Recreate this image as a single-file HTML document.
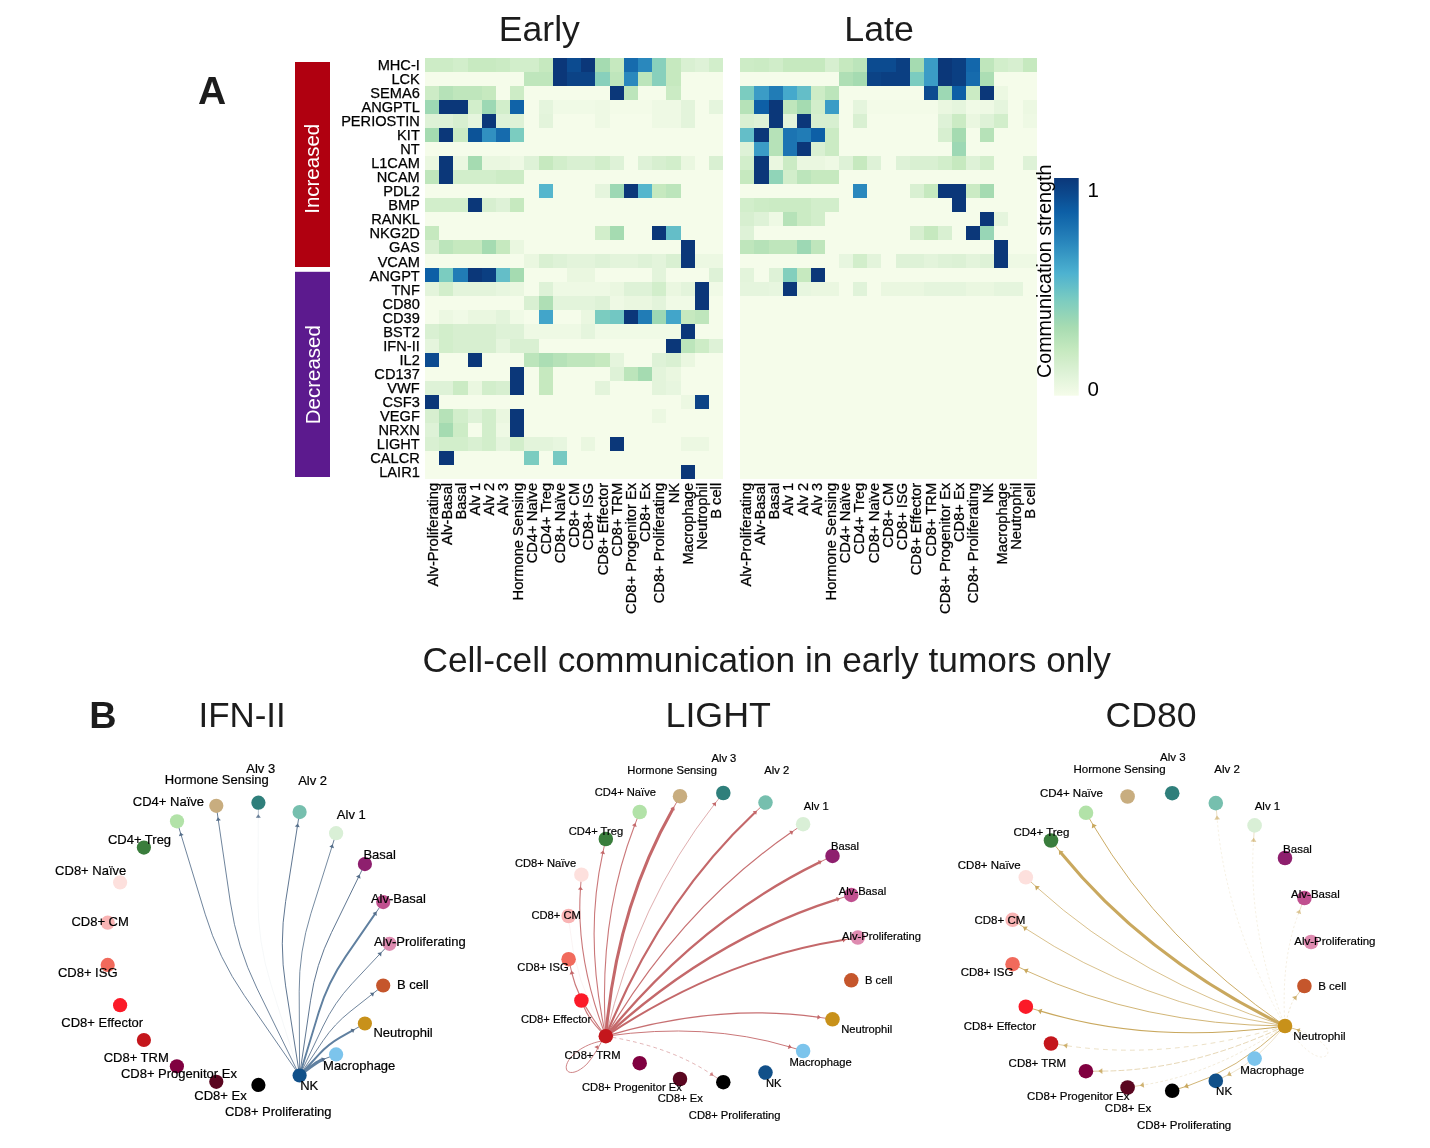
<!DOCTYPE html>
<html><head><meta charset="utf-8"><title>Figure</title>
<style>html,body{margin:0;padding:0;background:#fff}svg{display:block}</style></head>
<body><svg width="1430" height="1148" viewBox="0 0 1430 1148">
<rect width="1430" height="1148" fill="#fff"/>
<g shape-rendering="crispEdges">
<rect x="425.10" y="57.8" width="298.10" height="421.05" fill="#f5fcea"/>
<rect x="425.10" y="57.80" width="14.20" height="14.04" fill="#cdecc6"/>
<rect x="439.30" y="57.80" width="14.20" height="14.04" fill="#cdecc6"/>
<rect x="453.49" y="57.80" width="14.20" height="14.04" fill="#d2eecb"/>
<rect x="467.69" y="57.80" width="14.20" height="14.04" fill="#c8eac1"/>
<rect x="481.88" y="57.80" width="14.20" height="14.04" fill="#c8eac1"/>
<rect x="496.08" y="57.80" width="14.20" height="14.04" fill="#cbebc4"/>
<rect x="510.27" y="57.80" width="14.20" height="14.04" fill="#d2eecb"/>
<rect x="524.47" y="57.80" width="14.20" height="14.04" fill="#d2eecb"/>
<rect x="538.66" y="57.80" width="14.20" height="14.04" fill="#c6e9bf"/>
<rect x="552.86" y="57.80" width="14.20" height="14.04" fill="#0b3779"/>
<rect x="567.05" y="57.80" width="14.20" height="14.04" fill="#0c4b90"/>
<rect x="581.25" y="57.80" width="14.20" height="14.04" fill="#0b3779"/>
<rect x="595.44" y="57.80" width="14.20" height="14.04" fill="#a5dbb1"/>
<rect x="609.63" y="57.80" width="14.20" height="14.04" fill="#c6e9bf"/>
<rect x="623.83" y="57.80" width="14.20" height="14.04" fill="#166bad"/>
<rect x="638.03" y="57.80" width="14.20" height="14.04" fill="#2a88bd"/>
<rect x="652.22" y="57.80" width="14.20" height="14.04" fill="#88d0bc"/>
<rect x="666.41" y="57.80" width="14.20" height="14.04" fill="#c6e9bf"/>
<rect x="680.61" y="57.80" width="14.20" height="14.04" fill="#d9f0d2"/>
<rect x="694.81" y="57.80" width="14.20" height="14.04" fill="#def2d7"/>
<rect x="709.00" y="57.80" width="14.20" height="14.04" fill="#d2eecb"/>
<rect x="524.47" y="71.83" width="14.20" height="14.04" fill="#bfe6bc"/>
<rect x="538.66" y="71.83" width="14.20" height="14.04" fill="#bfe6bc"/>
<rect x="552.86" y="71.83" width="14.20" height="14.04" fill="#0b3779"/>
<rect x="567.05" y="71.83" width="14.20" height="14.04" fill="#0c4386"/>
<rect x="581.25" y="71.83" width="14.20" height="14.04" fill="#0c4386"/>
<rect x="595.44" y="71.83" width="14.20" height="14.04" fill="#88d0bc"/>
<rect x="609.63" y="71.83" width="14.20" height="14.04" fill="#bfe6bc"/>
<rect x="623.83" y="71.83" width="14.20" height="14.04" fill="#2a88bd"/>
<rect x="638.03" y="71.83" width="14.20" height="14.04" fill="#bce5bb"/>
<rect x="652.22" y="71.83" width="14.20" height="14.04" fill="#88d0bc"/>
<rect x="666.41" y="71.83" width="14.20" height="14.04" fill="#c6e9bf"/>
<rect x="425.10" y="85.87" width="14.20" height="14.04" fill="#cdecc6"/>
<rect x="439.30" y="85.87" width="14.20" height="14.04" fill="#b6e2b8"/>
<rect x="453.49" y="85.87" width="14.20" height="14.04" fill="#bfe6bc"/>
<rect x="467.69" y="85.87" width="14.20" height="14.04" fill="#bfe6bc"/>
<rect x="481.88" y="85.87" width="14.20" height="14.04" fill="#c6e9bf"/>
<rect x="510.27" y="85.87" width="14.20" height="14.04" fill="#cdecc6"/>
<rect x="609.63" y="85.87" width="14.20" height="14.04" fill="#0b3779"/>
<rect x="623.83" y="85.87" width="14.20" height="14.04" fill="#bce5bb"/>
<rect x="666.41" y="85.87" width="14.20" height="14.04" fill="#cbebc4"/>
<rect x="425.10" y="99.91" width="14.20" height="14.04" fill="#9dd8b4"/>
<rect x="439.30" y="99.91" width="14.20" height="14.04" fill="#0b3779"/>
<rect x="453.49" y="99.91" width="14.20" height="14.04" fill="#0b3779"/>
<rect x="467.69" y="99.91" width="14.20" height="14.04" fill="#d2eecb"/>
<rect x="481.88" y="99.91" width="14.20" height="14.04" fill="#9dd8b4"/>
<rect x="496.08" y="99.91" width="14.20" height="14.04" fill="#d2eecb"/>
<rect x="510.27" y="99.91" width="14.20" height="14.04" fill="#1063a8"/>
<rect x="538.66" y="99.91" width="14.20" height="14.04" fill="#e5f5dd"/>
<rect x="552.86" y="99.91" width="14.20" height="14.04" fill="#f0fae6"/>
<rect x="567.05" y="99.91" width="14.20" height="14.04" fill="#f0fae6"/>
<rect x="581.25" y="99.91" width="14.20" height="14.04" fill="#f0fae6"/>
<rect x="595.44" y="99.91" width="14.20" height="14.04" fill="#eef9e4"/>
<rect x="609.63" y="99.91" width="14.20" height="14.04" fill="#f3fbe8"/>
<rect x="623.83" y="99.91" width="14.20" height="14.04" fill="#f3fbe8"/>
<rect x="638.03" y="99.91" width="14.20" height="14.04" fill="#f3fbe8"/>
<rect x="652.22" y="99.91" width="14.20" height="14.04" fill="#eef9e4"/>
<rect x="666.41" y="99.91" width="14.20" height="14.04" fill="#eef9e4"/>
<rect x="680.61" y="99.91" width="14.20" height="14.04" fill="#e3f4db"/>
<rect x="709.00" y="99.91" width="14.20" height="14.04" fill="#e5f5dd"/>
<rect x="425.10" y="113.94" width="14.20" height="14.04" fill="#def2d7"/>
<rect x="439.30" y="113.94" width="14.20" height="14.04" fill="#def2d7"/>
<rect x="453.49" y="113.94" width="14.20" height="14.04" fill="#d7efd0"/>
<rect x="467.69" y="113.94" width="14.20" height="14.04" fill="#e5f5dd"/>
<rect x="481.88" y="113.94" width="14.20" height="14.04" fill="#0b3779"/>
<rect x="496.08" y="113.94" width="14.20" height="14.04" fill="#def2d7"/>
<rect x="510.27" y="113.94" width="14.20" height="14.04" fill="#def2d7"/>
<rect x="538.66" y="113.94" width="14.20" height="14.04" fill="#e3f4db"/>
<rect x="595.44" y="113.94" width="14.20" height="14.04" fill="#eef9e4"/>
<rect x="652.22" y="113.94" width="14.20" height="14.04" fill="#eef9e4"/>
<rect x="666.41" y="113.94" width="14.20" height="14.04" fill="#eef9e4"/>
<rect x="680.61" y="113.94" width="14.20" height="14.04" fill="#e3f4db"/>
<rect x="425.10" y="127.97" width="14.20" height="14.04" fill="#a5dbb1"/>
<rect x="439.30" y="127.97" width="14.20" height="14.04" fill="#0b3779"/>
<rect x="453.49" y="127.97" width="14.20" height="14.04" fill="#cbebc4"/>
<rect x="467.69" y="127.97" width="14.20" height="14.04" fill="#0c5398"/>
<rect x="481.88" y="127.97" width="14.20" height="14.04" fill="#3190c1"/>
<rect x="496.08" y="127.97" width="14.20" height="14.04" fill="#166bad"/>
<rect x="510.27" y="127.97" width="14.20" height="14.04" fill="#7bccc0"/>
<rect x="425.10" y="156.05" width="14.20" height="14.04" fill="#eaf7e0"/>
<rect x="439.30" y="156.05" width="14.20" height="14.04" fill="#0b3779"/>
<rect x="453.49" y="156.05" width="14.20" height="14.04" fill="#eaf7e0"/>
<rect x="467.69" y="156.05" width="14.20" height="14.04" fill="#a5dbb1"/>
<rect x="481.88" y="156.05" width="14.20" height="14.04" fill="#eaf7e0"/>
<rect x="496.08" y="156.05" width="14.20" height="14.04" fill="#eaf7e0"/>
<rect x="510.27" y="156.05" width="14.20" height="14.04" fill="#eef9e4"/>
<rect x="524.47" y="156.05" width="14.20" height="14.04" fill="#def2d7"/>
<rect x="538.66" y="156.05" width="14.20" height="14.04" fill="#c6e9bf"/>
<rect x="552.86" y="156.05" width="14.20" height="14.04" fill="#d2eecb"/>
<rect x="567.05" y="156.05" width="14.20" height="14.04" fill="#d9f0d2"/>
<rect x="581.25" y="156.05" width="14.20" height="14.04" fill="#d9f0d2"/>
<rect x="595.44" y="156.05" width="14.20" height="14.04" fill="#d2eecb"/>
<rect x="609.63" y="156.05" width="14.20" height="14.04" fill="#def2d7"/>
<rect x="638.03" y="156.05" width="14.20" height="14.04" fill="#def2d7"/>
<rect x="652.22" y="156.05" width="14.20" height="14.04" fill="#d7efd0"/>
<rect x="666.41" y="156.05" width="14.20" height="14.04" fill="#d2eecb"/>
<rect x="680.61" y="156.05" width="14.20" height="14.04" fill="#eaf7e0"/>
<rect x="709.00" y="156.05" width="14.20" height="14.04" fill="#d9f0d2"/>
<rect x="425.10" y="170.08" width="14.20" height="14.04" fill="#bfe6bc"/>
<rect x="439.30" y="170.08" width="14.20" height="14.04" fill="#0b3779"/>
<rect x="453.49" y="170.08" width="14.20" height="14.04" fill="#d2eecb"/>
<rect x="467.69" y="170.08" width="14.20" height="14.04" fill="#d2eecb"/>
<rect x="481.88" y="170.08" width="14.20" height="14.04" fill="#d2eecb"/>
<rect x="496.08" y="170.08" width="14.20" height="14.04" fill="#cdecc6"/>
<rect x="510.27" y="170.08" width="14.20" height="14.04" fill="#cdecc6"/>
<rect x="538.66" y="184.12" width="14.20" height="14.04" fill="#55b6cd"/>
<rect x="595.44" y="184.12" width="14.20" height="14.04" fill="#e5f5dd"/>
<rect x="609.63" y="184.12" width="14.20" height="14.04" fill="#9dd8b4"/>
<rect x="623.83" y="184.12" width="14.20" height="14.04" fill="#0b3779"/>
<rect x="638.03" y="184.12" width="14.20" height="14.04" fill="#55b6cd"/>
<rect x="652.22" y="184.12" width="14.20" height="14.04" fill="#c6e9bf"/>
<rect x="666.41" y="184.12" width="14.20" height="14.04" fill="#bce5bb"/>
<rect x="425.10" y="198.15" width="14.20" height="14.04" fill="#d2eecb"/>
<rect x="439.30" y="198.15" width="14.20" height="14.04" fill="#d2eecb"/>
<rect x="453.49" y="198.15" width="14.20" height="14.04" fill="#d2eecb"/>
<rect x="467.69" y="198.15" width="14.20" height="14.04" fill="#0b3779"/>
<rect x="481.88" y="198.15" width="14.20" height="14.04" fill="#d7efd0"/>
<rect x="496.08" y="198.15" width="14.20" height="14.04" fill="#def2d7"/>
<rect x="510.27" y="198.15" width="14.20" height="14.04" fill="#c6e9bf"/>
<rect x="425.10" y="226.22" width="14.20" height="14.04" fill="#c6e9bf"/>
<rect x="595.44" y="226.22" width="14.20" height="14.04" fill="#d2eecb"/>
<rect x="609.63" y="226.22" width="14.20" height="14.04" fill="#a5dbb1"/>
<rect x="652.22" y="226.22" width="14.20" height="14.04" fill="#0b3779"/>
<rect x="666.41" y="226.22" width="14.20" height="14.04" fill="#64bec8"/>
<rect x="425.10" y="240.25" width="14.20" height="14.04" fill="#d7efd0"/>
<rect x="439.30" y="240.25" width="14.20" height="14.04" fill="#bce5bb"/>
<rect x="453.49" y="240.25" width="14.20" height="14.04" fill="#c6e9bf"/>
<rect x="467.69" y="240.25" width="14.20" height="14.04" fill="#c6e9bf"/>
<rect x="481.88" y="240.25" width="14.20" height="14.04" fill="#a5dbb1"/>
<rect x="496.08" y="240.25" width="14.20" height="14.04" fill="#c6e9bf"/>
<rect x="510.27" y="240.25" width="14.20" height="14.04" fill="#eaf7e0"/>
<rect x="680.61" y="240.25" width="14.20" height="14.04" fill="#0b3779"/>
<rect x="524.47" y="254.29" width="14.20" height="14.04" fill="#eaf7e0"/>
<rect x="538.66" y="254.29" width="14.20" height="14.04" fill="#d9f0d2"/>
<rect x="552.86" y="254.29" width="14.20" height="14.04" fill="#def2d7"/>
<rect x="567.05" y="254.29" width="14.20" height="14.04" fill="#e3f4db"/>
<rect x="581.25" y="254.29" width="14.20" height="14.04" fill="#e3f4db"/>
<rect x="595.44" y="254.29" width="14.20" height="14.04" fill="#def2d7"/>
<rect x="609.63" y="254.29" width="14.20" height="14.04" fill="#e3f4db"/>
<rect x="623.83" y="254.29" width="14.20" height="14.04" fill="#e3f4db"/>
<rect x="638.03" y="254.29" width="14.20" height="14.04" fill="#def2d7"/>
<rect x="652.22" y="254.29" width="14.20" height="14.04" fill="#e3f4db"/>
<rect x="666.41" y="254.29" width="14.20" height="14.04" fill="#d9f0d2"/>
<rect x="680.61" y="254.29" width="14.20" height="14.04" fill="#0b3779"/>
<rect x="694.81" y="254.29" width="14.20" height="14.04" fill="#ecf8e2"/>
<rect x="709.00" y="254.29" width="14.20" height="14.04" fill="#ecf8e2"/>
<rect x="425.10" y="268.32" width="14.20" height="14.04" fill="#0d5fa6"/>
<rect x="439.30" y="268.32" width="14.20" height="14.04" fill="#7bccc0"/>
<rect x="453.49" y="268.32" width="14.20" height="14.04" fill="#217cb6"/>
<rect x="467.69" y="268.32" width="14.20" height="14.04" fill="#0b3779"/>
<rect x="481.88" y="268.32" width="14.20" height="14.04" fill="#0b3f82"/>
<rect x="496.08" y="268.32" width="14.20" height="14.04" fill="#64bec8"/>
<rect x="510.27" y="268.32" width="14.20" height="14.04" fill="#a5dbb1"/>
<rect x="567.05" y="268.32" width="14.20" height="14.04" fill="#eaf7e0"/>
<rect x="581.25" y="268.32" width="14.20" height="14.04" fill="#eaf7e0"/>
<rect x="652.22" y="268.32" width="14.20" height="14.04" fill="#e3f4db"/>
<rect x="709.00" y="268.32" width="14.20" height="14.04" fill="#def2d7"/>
<rect x="425.10" y="282.36" width="14.20" height="14.04" fill="#e3f4db"/>
<rect x="439.30" y="282.36" width="14.20" height="14.04" fill="#d2eecb"/>
<rect x="453.49" y="282.36" width="14.20" height="14.04" fill="#e3f4db"/>
<rect x="467.69" y="282.36" width="14.20" height="14.04" fill="#e3f4db"/>
<rect x="481.88" y="282.36" width="14.20" height="14.04" fill="#e3f4db"/>
<rect x="496.08" y="282.36" width="14.20" height="14.04" fill="#e7f6df"/>
<rect x="510.27" y="282.36" width="14.20" height="14.04" fill="#eaf7e0"/>
<rect x="538.66" y="282.36" width="14.20" height="14.04" fill="#def2d7"/>
<rect x="552.86" y="282.36" width="14.20" height="14.04" fill="#eef9e4"/>
<rect x="567.05" y="282.36" width="14.20" height="14.04" fill="#eef9e4"/>
<rect x="581.25" y="282.36" width="14.20" height="14.04" fill="#eef9e4"/>
<rect x="595.44" y="282.36" width="14.20" height="14.04" fill="#eef9e4"/>
<rect x="609.63" y="282.36" width="14.20" height="14.04" fill="#eaf7e0"/>
<rect x="623.83" y="282.36" width="14.20" height="14.04" fill="#def2d7"/>
<rect x="638.03" y="282.36" width="14.20" height="14.04" fill="#def2d7"/>
<rect x="652.22" y="282.36" width="14.20" height="14.04" fill="#d2eecb"/>
<rect x="666.41" y="282.36" width="14.20" height="14.04" fill="#eaf7e0"/>
<rect x="680.61" y="282.36" width="14.20" height="14.04" fill="#e3f4db"/>
<rect x="694.81" y="282.36" width="14.20" height="14.04" fill="#0b3779"/>
<rect x="709.00" y="282.36" width="14.20" height="14.04" fill="#f0fae6"/>
<rect x="524.47" y="296.39" width="14.20" height="14.04" fill="#d9f0d2"/>
<rect x="538.66" y="296.39" width="14.20" height="14.04" fill="#afdfb5"/>
<rect x="552.86" y="296.39" width="14.20" height="14.04" fill="#e3f4db"/>
<rect x="567.05" y="296.39" width="14.20" height="14.04" fill="#e3f4db"/>
<rect x="581.25" y="296.39" width="14.20" height="14.04" fill="#e3f4db"/>
<rect x="595.44" y="296.39" width="14.20" height="14.04" fill="#def2d7"/>
<rect x="609.63" y="296.39" width="14.20" height="14.04" fill="#eef9e4"/>
<rect x="623.83" y="296.39" width="14.20" height="14.04" fill="#eaf7e0"/>
<rect x="638.03" y="296.39" width="14.20" height="14.04" fill="#eaf7e0"/>
<rect x="652.22" y="296.39" width="14.20" height="14.04" fill="#e3f4db"/>
<rect x="666.41" y="296.39" width="14.20" height="14.04" fill="#f0fae6"/>
<rect x="680.61" y="296.39" width="14.20" height="14.04" fill="#f0fae6"/>
<rect x="694.81" y="296.39" width="14.20" height="14.04" fill="#0b3779"/>
<rect x="439.30" y="310.43" width="14.20" height="14.04" fill="#ecf8e2"/>
<rect x="453.49" y="310.43" width="14.20" height="14.04" fill="#f0fae6"/>
<rect x="467.69" y="310.43" width="14.20" height="14.04" fill="#eaf7e0"/>
<rect x="481.88" y="310.43" width="14.20" height="14.04" fill="#eaf7e0"/>
<rect x="496.08" y="310.43" width="14.20" height="14.04" fill="#e3f4db"/>
<rect x="510.27" y="310.43" width="14.20" height="14.04" fill="#f0fae6"/>
<rect x="538.66" y="310.43" width="14.20" height="14.04" fill="#42a5ca"/>
<rect x="581.25" y="310.43" width="14.20" height="14.04" fill="#eaf7e0"/>
<rect x="595.44" y="310.43" width="14.20" height="14.04" fill="#7bccc0"/>
<rect x="609.63" y="310.43" width="14.20" height="14.04" fill="#72c7c3"/>
<rect x="623.83" y="310.43" width="14.20" height="14.04" fill="#0b3779"/>
<rect x="638.03" y="310.43" width="14.20" height="14.04" fill="#217cb6"/>
<rect x="652.22" y="310.43" width="14.20" height="14.04" fill="#9dd8b4"/>
<rect x="666.41" y="310.43" width="14.20" height="14.04" fill="#42a5ca"/>
<rect x="680.61" y="310.43" width="14.20" height="14.04" fill="#c6e9bf"/>
<rect x="694.81" y="310.43" width="14.20" height="14.04" fill="#bfe6bc"/>
<rect x="425.10" y="324.47" width="14.20" height="14.04" fill="#d9f0d2"/>
<rect x="439.30" y="324.47" width="14.20" height="14.04" fill="#d2eecb"/>
<rect x="453.49" y="324.47" width="14.20" height="14.04" fill="#d7efd0"/>
<rect x="467.69" y="324.47" width="14.20" height="14.04" fill="#d7efd0"/>
<rect x="481.88" y="324.47" width="14.20" height="14.04" fill="#d7efd0"/>
<rect x="496.08" y="324.47" width="14.20" height="14.04" fill="#def2d7"/>
<rect x="510.27" y="324.47" width="14.20" height="14.04" fill="#def2d7"/>
<rect x="524.47" y="324.47" width="14.20" height="14.04" fill="#eef9e4"/>
<rect x="538.66" y="324.47" width="14.20" height="14.04" fill="#eef9e4"/>
<rect x="552.86" y="324.47" width="14.20" height="14.04" fill="#eef9e4"/>
<rect x="567.05" y="324.47" width="14.20" height="14.04" fill="#eef9e4"/>
<rect x="581.25" y="324.47" width="14.20" height="14.04" fill="#e5f5dd"/>
<rect x="595.44" y="324.47" width="14.20" height="14.04" fill="#f0fae6"/>
<rect x="609.63" y="324.47" width="14.20" height="14.04" fill="#f0fae6"/>
<rect x="623.83" y="324.47" width="14.20" height="14.04" fill="#f0fae6"/>
<rect x="638.03" y="324.47" width="14.20" height="14.04" fill="#f0fae6"/>
<rect x="652.22" y="324.47" width="14.20" height="14.04" fill="#f0fae6"/>
<rect x="666.41" y="324.47" width="14.20" height="14.04" fill="#f0fae6"/>
<rect x="680.61" y="324.47" width="14.20" height="14.04" fill="#0b3779"/>
<rect x="425.10" y="338.50" width="14.20" height="14.04" fill="#e5f5dd"/>
<rect x="439.30" y="338.50" width="14.20" height="14.04" fill="#d2eecb"/>
<rect x="453.49" y="338.50" width="14.20" height="14.04" fill="#d7efd0"/>
<rect x="467.69" y="338.50" width="14.20" height="14.04" fill="#d7efd0"/>
<rect x="481.88" y="338.50" width="14.20" height="14.04" fill="#d7efd0"/>
<rect x="496.08" y="338.50" width="14.20" height="14.04" fill="#e5f5dd"/>
<rect x="510.27" y="338.50" width="14.20" height="14.04" fill="#d9f0d2"/>
<rect x="524.47" y="338.50" width="14.20" height="14.04" fill="#d9f0d2"/>
<rect x="666.41" y="338.50" width="14.20" height="14.04" fill="#0b3779"/>
<rect x="680.61" y="338.50" width="14.20" height="14.04" fill="#bce5bb"/>
<rect x="694.81" y="338.50" width="14.20" height="14.04" fill="#cdecc6"/>
<rect x="709.00" y="338.50" width="14.20" height="14.04" fill="#def2d7"/>
<rect x="425.10" y="352.54" width="14.20" height="14.04" fill="#0c4b90"/>
<rect x="467.69" y="352.54" width="14.20" height="14.04" fill="#0b3779"/>
<rect x="524.47" y="352.54" width="14.20" height="14.04" fill="#bce5bb"/>
<rect x="538.66" y="352.54" width="14.20" height="14.04" fill="#acdeb4"/>
<rect x="552.86" y="352.54" width="14.20" height="14.04" fill="#b6e2b8"/>
<rect x="567.05" y="352.54" width="14.20" height="14.04" fill="#bfe6bc"/>
<rect x="581.25" y="352.54" width="14.20" height="14.04" fill="#bfe6bc"/>
<rect x="595.44" y="352.54" width="14.20" height="14.04" fill="#c6e9bf"/>
<rect x="609.63" y="352.54" width="14.20" height="14.04" fill="#e5f5dd"/>
<rect x="652.22" y="352.54" width="14.20" height="14.04" fill="#def2d7"/>
<rect x="666.41" y="352.54" width="14.20" height="14.04" fill="#d9f0d2"/>
<rect x="680.61" y="352.54" width="14.20" height="14.04" fill="#eaf7e0"/>
<rect x="510.27" y="366.57" width="14.20" height="14.04" fill="#0b3779"/>
<rect x="538.66" y="366.57" width="14.20" height="14.04" fill="#c6e9bf"/>
<rect x="609.63" y="366.57" width="14.20" height="14.04" fill="#def2d7"/>
<rect x="623.83" y="366.57" width="14.20" height="14.04" fill="#bce5bb"/>
<rect x="638.03" y="366.57" width="14.20" height="14.04" fill="#a5dbb1"/>
<rect x="652.22" y="366.57" width="14.20" height="14.04" fill="#e3f4db"/>
<rect x="666.41" y="366.57" width="14.20" height="14.04" fill="#eaf7e0"/>
<rect x="425.10" y="380.61" width="14.20" height="14.04" fill="#def2d7"/>
<rect x="439.30" y="380.61" width="14.20" height="14.04" fill="#def2d7"/>
<rect x="453.49" y="380.61" width="14.20" height="14.04" fill="#cbebc4"/>
<rect x="467.69" y="380.61" width="14.20" height="14.04" fill="#eaf7e0"/>
<rect x="481.88" y="380.61" width="14.20" height="14.04" fill="#d2eecb"/>
<rect x="496.08" y="380.61" width="14.20" height="14.04" fill="#d7efd0"/>
<rect x="510.27" y="380.61" width="14.20" height="14.04" fill="#0b3779"/>
<rect x="538.66" y="380.61" width="14.20" height="14.04" fill="#c6e9bf"/>
<rect x="595.44" y="380.61" width="14.20" height="14.04" fill="#e3f4db"/>
<rect x="652.22" y="380.61" width="14.20" height="14.04" fill="#e3f4db"/>
<rect x="666.41" y="380.61" width="14.20" height="14.04" fill="#e7f6df"/>
<rect x="425.10" y="394.64" width="14.20" height="14.04" fill="#0b3779"/>
<rect x="680.61" y="394.64" width="14.20" height="14.04" fill="#ecf8e2"/>
<rect x="694.81" y="394.64" width="14.20" height="14.04" fill="#0c4386"/>
<rect x="425.10" y="408.68" width="14.20" height="14.04" fill="#d7efd0"/>
<rect x="439.30" y="408.68" width="14.20" height="14.04" fill="#b6e2b8"/>
<rect x="453.49" y="408.68" width="14.20" height="14.04" fill="#d2eecb"/>
<rect x="467.69" y="408.68" width="14.20" height="14.04" fill="#def2d7"/>
<rect x="481.88" y="408.68" width="14.20" height="14.04" fill="#d2eecb"/>
<rect x="496.08" y="408.68" width="14.20" height="14.04" fill="#eaf7e0"/>
<rect x="510.27" y="408.68" width="14.20" height="14.04" fill="#0b3779"/>
<rect x="652.22" y="408.68" width="14.20" height="14.04" fill="#ecf8e2"/>
<rect x="425.10" y="422.71" width="14.20" height="14.04" fill="#def2d7"/>
<rect x="439.30" y="422.71" width="14.20" height="14.04" fill="#a5dbb1"/>
<rect x="453.49" y="422.71" width="14.20" height="14.04" fill="#cdecc6"/>
<rect x="481.88" y="422.71" width="14.20" height="14.04" fill="#d2eecb"/>
<rect x="496.08" y="422.71" width="14.20" height="14.04" fill="#eef9e4"/>
<rect x="510.27" y="422.71" width="14.20" height="14.04" fill="#0b3779"/>
<rect x="425.10" y="436.75" width="14.20" height="14.04" fill="#d9f0d2"/>
<rect x="439.30" y="436.75" width="14.20" height="14.04" fill="#d2eecb"/>
<rect x="453.49" y="436.75" width="14.20" height="14.04" fill="#d2eecb"/>
<rect x="467.69" y="436.75" width="14.20" height="14.04" fill="#d9f0d2"/>
<rect x="481.88" y="436.75" width="14.20" height="14.04" fill="#d2eecb"/>
<rect x="496.08" y="436.75" width="14.20" height="14.04" fill="#e5f5dd"/>
<rect x="510.27" y="436.75" width="14.20" height="14.04" fill="#d2eecb"/>
<rect x="524.47" y="436.75" width="14.20" height="14.04" fill="#e3f4db"/>
<rect x="538.66" y="436.75" width="14.20" height="14.04" fill="#e3f4db"/>
<rect x="552.86" y="436.75" width="14.20" height="14.04" fill="#e7f6df"/>
<rect x="581.25" y="436.75" width="14.20" height="14.04" fill="#eaf7e0"/>
<rect x="609.63" y="436.75" width="14.20" height="14.04" fill="#0b3779"/>
<rect x="680.61" y="436.75" width="14.20" height="14.04" fill="#ecf8e2"/>
<rect x="694.81" y="436.75" width="14.20" height="14.04" fill="#ecf8e2"/>
<rect x="439.30" y="450.78" width="14.20" height="14.04" fill="#0b3779"/>
<rect x="524.47" y="450.78" width="14.20" height="14.04" fill="#7bccc0"/>
<rect x="552.86" y="450.78" width="14.20" height="14.04" fill="#76c9c2"/>
<rect x="680.61" y="464.81" width="14.20" height="14.04" fill="#0b3779"/>
</g>
<g font-family="Liberation Sans, Arial, sans-serif" font-size="14.7" fill="#000" stroke="#000" stroke-width="0.25" text-anchor="end">
<text transform="translate(437.50,482.85) rotate(-90)">Alv-Proliferating</text>
<text transform="translate(451.68,482.85) rotate(-90)">Alv-Basal</text>
<text transform="translate(465.86,482.85) rotate(-90)">Basal</text>
<text transform="translate(480.04,482.85) rotate(-90)">Alv 1</text>
<text transform="translate(494.22,482.85) rotate(-90)">Alv 2</text>
<text transform="translate(508.40,482.85) rotate(-90)">Alv 3</text>
<text transform="translate(522.58,482.85) rotate(-90)">Hormone Sensing</text>
<text transform="translate(536.76,482.85) rotate(-90)">CD4+ Naïve</text>
<text transform="translate(550.94,482.85) rotate(-90)">CD4+ Treg</text>
<text transform="translate(565.12,482.85) rotate(-90)">CD8+ Naïve</text>
<text transform="translate(579.30,482.85) rotate(-90)">CD8+ CM</text>
<text transform="translate(593.48,482.85) rotate(-90)">CD8+ ISG</text>
<text transform="translate(607.66,482.85) rotate(-90)">CD8+ Effector</text>
<text transform="translate(621.84,482.85) rotate(-90)">CD8+ TRM</text>
<text transform="translate(636.02,482.85) rotate(-90)">CD8+ Progenitor Ex</text>
<text transform="translate(650.20,482.85) rotate(-90)">CD8+ Ex</text>
<text transform="translate(664.38,482.85) rotate(-90)">CD8+ Proliferating</text>
<text transform="translate(678.56,482.85) rotate(-90)">NK</text>
<text transform="translate(692.74,482.85) rotate(-90)">Macrophage</text>
<text transform="translate(706.92,482.85) rotate(-90)">Neutrophil</text>
<text transform="translate(721.10,482.85) rotate(-90)">B cell</text>
</g>
<g shape-rendering="crispEdges">
<rect x="740.30" y="57.8" width="296.31" height="421.05" fill="#f5fcea"/>
<rect x="740.30" y="57.80" width="14.11" height="14.04" fill="#cdecc6"/>
<rect x="754.41" y="57.80" width="14.11" height="14.04" fill="#cbebc4"/>
<rect x="768.52" y="57.80" width="14.11" height="14.04" fill="#d0edc9"/>
<rect x="782.63" y="57.80" width="14.11" height="14.04" fill="#c6e9bf"/>
<rect x="796.74" y="57.80" width="14.11" height="14.04" fill="#c6e9bf"/>
<rect x="810.85" y="57.80" width="14.11" height="14.04" fill="#c6e9bf"/>
<rect x="824.96" y="57.80" width="14.11" height="14.04" fill="#d7efd0"/>
<rect x="839.07" y="57.80" width="14.11" height="14.04" fill="#c6e9bf"/>
<rect x="853.18" y="57.80" width="14.11" height="14.04" fill="#bce5bb"/>
<rect x="867.29" y="57.80" width="14.11" height="14.04" fill="#0c4b90"/>
<rect x="881.40" y="57.80" width="14.11" height="14.04" fill="#0c4b90"/>
<rect x="895.51" y="57.80" width="14.11" height="14.04" fill="#0b3f82"/>
<rect x="909.62" y="57.80" width="14.11" height="14.04" fill="#a5dbb1"/>
<rect x="923.73" y="57.80" width="14.11" height="14.04" fill="#3b9cc6"/>
<rect x="937.84" y="57.80" width="14.11" height="14.04" fill="#0b3779"/>
<rect x="951.95" y="57.80" width="14.11" height="14.04" fill="#0b3f82"/>
<rect x="966.06" y="57.80" width="14.11" height="14.04" fill="#1367ab"/>
<rect x="980.17" y="57.80" width="14.11" height="14.04" fill="#bfe6bc"/>
<rect x="994.28" y="57.80" width="14.11" height="14.04" fill="#d2eecb"/>
<rect x="1008.39" y="57.80" width="14.11" height="14.04" fill="#d7efd0"/>
<rect x="1022.50" y="57.80" width="14.11" height="14.04" fill="#c6e9bf"/>
<rect x="839.07" y="71.83" width="14.11" height="14.04" fill="#afdfb5"/>
<rect x="853.18" y="71.83" width="14.11" height="14.04" fill="#a5dbb1"/>
<rect x="867.29" y="71.83" width="14.11" height="14.04" fill="#0c4386"/>
<rect x="881.40" y="71.83" width="14.11" height="14.04" fill="#0b3f82"/>
<rect x="895.51" y="71.83" width="14.11" height="14.04" fill="#0b3f82"/>
<rect x="909.62" y="71.83" width="14.11" height="14.04" fill="#7bccc0"/>
<rect x="923.73" y="71.83" width="14.11" height="14.04" fill="#3b9cc6"/>
<rect x="937.84" y="71.83" width="14.11" height="14.04" fill="#0b3779"/>
<rect x="951.95" y="71.83" width="14.11" height="14.04" fill="#0b3f82"/>
<rect x="966.06" y="71.83" width="14.11" height="14.04" fill="#166bad"/>
<rect x="980.17" y="71.83" width="14.11" height="14.04" fill="#acdeb4"/>
<rect x="740.30" y="85.87" width="14.11" height="14.04" fill="#7bccc0"/>
<rect x="754.41" y="85.87" width="14.11" height="14.04" fill="#3b9cc6"/>
<rect x="768.52" y="85.87" width="14.11" height="14.04" fill="#217cb6"/>
<rect x="782.63" y="85.87" width="14.11" height="14.04" fill="#45a9cc"/>
<rect x="796.74" y="85.87" width="14.11" height="14.04" fill="#64bec8"/>
<rect x="810.85" y="85.87" width="14.11" height="14.04" fill="#cdecc6"/>
<rect x="824.96" y="85.87" width="14.11" height="14.04" fill="#bce5bb"/>
<rect x="923.73" y="85.87" width="14.11" height="14.04" fill="#0c4b90"/>
<rect x="937.84" y="85.87" width="14.11" height="14.04" fill="#9dd8b4"/>
<rect x="951.95" y="85.87" width="14.11" height="14.04" fill="#0d5fa6"/>
<rect x="966.06" y="85.87" width="14.11" height="14.04" fill="#cbebc4"/>
<rect x="980.17" y="85.87" width="14.11" height="14.04" fill="#0b3779"/>
<rect x="994.28" y="85.87" width="14.11" height="14.04" fill="#ecf8e2"/>
<rect x="740.30" y="99.91" width="14.11" height="14.04" fill="#b6e2b8"/>
<rect x="754.41" y="99.91" width="14.11" height="14.04" fill="#0d5fa6"/>
<rect x="768.52" y="99.91" width="14.11" height="14.04" fill="#0b3779"/>
<rect x="782.63" y="99.91" width="14.11" height="14.04" fill="#bfe6bc"/>
<rect x="796.74" y="99.91" width="14.11" height="14.04" fill="#a5dbb1"/>
<rect x="810.85" y="99.91" width="14.11" height="14.04" fill="#d2eecb"/>
<rect x="824.96" y="99.91" width="14.11" height="14.04" fill="#3b9cc6"/>
<rect x="853.18" y="99.91" width="14.11" height="14.04" fill="#e5f5dd"/>
<rect x="867.29" y="99.91" width="14.11" height="14.04" fill="#f3fbe8"/>
<rect x="881.40" y="99.91" width="14.11" height="14.04" fill="#f3fbe8"/>
<rect x="895.51" y="99.91" width="14.11" height="14.04" fill="#f3fbe8"/>
<rect x="909.62" y="99.91" width="14.11" height="14.04" fill="#f3fbe8"/>
<rect x="923.73" y="99.91" width="14.11" height="14.04" fill="#f3fbe8"/>
<rect x="937.84" y="99.91" width="14.11" height="14.04" fill="#eaf7e0"/>
<rect x="951.95" y="99.91" width="14.11" height="14.04" fill="#e5f5dd"/>
<rect x="966.06" y="99.91" width="14.11" height="14.04" fill="#f0fae6"/>
<rect x="980.17" y="99.91" width="14.11" height="14.04" fill="#eef9e4"/>
<rect x="994.28" y="99.91" width="14.11" height="14.04" fill="#e5f5dd"/>
<rect x="1022.50" y="99.91" width="14.11" height="14.04" fill="#ecf8e2"/>
<rect x="740.30" y="113.94" width="14.11" height="14.04" fill="#d9f0d2"/>
<rect x="754.41" y="113.94" width="14.11" height="14.04" fill="#def2d7"/>
<rect x="768.52" y="113.94" width="14.11" height="14.04" fill="#0b3779"/>
<rect x="782.63" y="113.94" width="14.11" height="14.04" fill="#e3f4db"/>
<rect x="796.74" y="113.94" width="14.11" height="14.04" fill="#0b3779"/>
<rect x="810.85" y="113.94" width="14.11" height="14.04" fill="#d7efd0"/>
<rect x="824.96" y="113.94" width="14.11" height="14.04" fill="#d7efd0"/>
<rect x="853.18" y="113.94" width="14.11" height="14.04" fill="#d9f0d2"/>
<rect x="937.84" y="113.94" width="14.11" height="14.04" fill="#def2d7"/>
<rect x="951.95" y="113.94" width="14.11" height="14.04" fill="#cbebc4"/>
<rect x="966.06" y="113.94" width="14.11" height="14.04" fill="#eaf7e0"/>
<rect x="980.17" y="113.94" width="14.11" height="14.04" fill="#def2d7"/>
<rect x="994.28" y="113.94" width="14.11" height="14.04" fill="#d2eecb"/>
<rect x="1022.50" y="113.94" width="14.11" height="14.04" fill="#eef9e4"/>
<rect x="740.30" y="127.97" width="14.11" height="14.04" fill="#64bec8"/>
<rect x="754.41" y="127.97" width="14.11" height="14.04" fill="#0b3779"/>
<rect x="768.52" y="127.97" width="14.11" height="14.04" fill="#b6e2b8"/>
<rect x="782.63" y="127.97" width="14.11" height="14.04" fill="#1c74b2"/>
<rect x="796.74" y="127.97" width="14.11" height="14.04" fill="#217cb6"/>
<rect x="810.85" y="127.97" width="14.11" height="14.04" fill="#0d5fa6"/>
<rect x="824.96" y="127.97" width="14.11" height="14.04" fill="#cbebc4"/>
<rect x="937.84" y="127.97" width="14.11" height="14.04" fill="#d7efd0"/>
<rect x="951.95" y="127.97" width="14.11" height="14.04" fill="#a5dbb1"/>
<rect x="980.17" y="127.97" width="14.11" height="14.04" fill="#b6e2b8"/>
<rect x="740.30" y="142.01" width="14.11" height="14.04" fill="#def2d7"/>
<rect x="754.41" y="142.01" width="14.11" height="14.04" fill="#3b9cc6"/>
<rect x="768.52" y="142.01" width="14.11" height="14.04" fill="#b6e2b8"/>
<rect x="782.63" y="142.01" width="14.11" height="14.04" fill="#1c74b2"/>
<rect x="796.74" y="142.01" width="14.11" height="14.04" fill="#0b3779"/>
<rect x="810.85" y="142.01" width="14.11" height="14.04" fill="#d9f0d2"/>
<rect x="824.96" y="142.01" width="14.11" height="14.04" fill="#cbebc4"/>
<rect x="951.95" y="142.01" width="14.11" height="14.04" fill="#9dd8b4"/>
<rect x="740.30" y="156.05" width="14.11" height="14.04" fill="#d2eecb"/>
<rect x="754.41" y="156.05" width="14.11" height="14.04" fill="#0b3779"/>
<rect x="768.52" y="156.05" width="14.11" height="14.04" fill="#eaf7e0"/>
<rect x="782.63" y="156.05" width="14.11" height="14.04" fill="#cbebc4"/>
<rect x="796.74" y="156.05" width="14.11" height="14.04" fill="#eaf7e0"/>
<rect x="810.85" y="156.05" width="14.11" height="14.04" fill="#eaf7e0"/>
<rect x="824.96" y="156.05" width="14.11" height="14.04" fill="#eef9e4"/>
<rect x="839.07" y="156.05" width="14.11" height="14.04" fill="#def2d7"/>
<rect x="853.18" y="156.05" width="14.11" height="14.04" fill="#c6e9bf"/>
<rect x="867.29" y="156.05" width="14.11" height="14.04" fill="#def2d7"/>
<rect x="895.51" y="156.05" width="14.11" height="14.04" fill="#def2d7"/>
<rect x="909.62" y="156.05" width="14.11" height="14.04" fill="#d9f0d2"/>
<rect x="923.73" y="156.05" width="14.11" height="14.04" fill="#d9f0d2"/>
<rect x="937.84" y="156.05" width="14.11" height="14.04" fill="#d2eecb"/>
<rect x="951.95" y="156.05" width="14.11" height="14.04" fill="#c6e9bf"/>
<rect x="966.06" y="156.05" width="14.11" height="14.04" fill="#def2d7"/>
<rect x="980.17" y="156.05" width="14.11" height="14.04" fill="#d2eecb"/>
<rect x="1022.50" y="156.05" width="14.11" height="14.04" fill="#def2d7"/>
<rect x="740.30" y="170.08" width="14.11" height="14.04" fill="#c6e9bf"/>
<rect x="754.41" y="170.08" width="14.11" height="14.04" fill="#0b3779"/>
<rect x="768.52" y="170.08" width="14.11" height="14.04" fill="#90d4b8"/>
<rect x="782.63" y="170.08" width="14.11" height="14.04" fill="#d2eecb"/>
<rect x="796.74" y="170.08" width="14.11" height="14.04" fill="#bce5bb"/>
<rect x="810.85" y="170.08" width="14.11" height="14.04" fill="#c6e9bf"/>
<rect x="824.96" y="170.08" width="14.11" height="14.04" fill="#c6e9bf"/>
<rect x="853.18" y="184.12" width="14.11" height="14.04" fill="#2a88bd"/>
<rect x="909.62" y="184.12" width="14.11" height="14.04" fill="#d9f0d2"/>
<rect x="923.73" y="184.12" width="14.11" height="14.04" fill="#c6e9bf"/>
<rect x="937.84" y="184.12" width="14.11" height="14.04" fill="#0b3779"/>
<rect x="951.95" y="184.12" width="14.11" height="14.04" fill="#0b3779"/>
<rect x="966.06" y="184.12" width="14.11" height="14.04" fill="#cbebc4"/>
<rect x="980.17" y="184.12" width="14.11" height="14.04" fill="#a5dbb1"/>
<rect x="740.30" y="198.15" width="14.11" height="14.04" fill="#d2eecb"/>
<rect x="754.41" y="198.15" width="14.11" height="14.04" fill="#cdecc6"/>
<rect x="768.52" y="198.15" width="14.11" height="14.04" fill="#cbebc4"/>
<rect x="782.63" y="198.15" width="14.11" height="14.04" fill="#cbebc4"/>
<rect x="796.74" y="198.15" width="14.11" height="14.04" fill="#cbebc4"/>
<rect x="810.85" y="198.15" width="14.11" height="14.04" fill="#d2eecb"/>
<rect x="824.96" y="198.15" width="14.11" height="14.04" fill="#d2eecb"/>
<rect x="951.95" y="198.15" width="14.11" height="14.04" fill="#0b3779"/>
<rect x="740.30" y="212.19" width="14.11" height="14.04" fill="#d7efd0"/>
<rect x="754.41" y="212.19" width="14.11" height="14.04" fill="#def2d7"/>
<rect x="768.52" y="212.19" width="14.11" height="14.04" fill="#eef9e4"/>
<rect x="782.63" y="212.19" width="14.11" height="14.04" fill="#b6e2b8"/>
<rect x="796.74" y="212.19" width="14.11" height="14.04" fill="#cbebc4"/>
<rect x="810.85" y="212.19" width="14.11" height="14.04" fill="#d2eecb"/>
<rect x="980.17" y="212.19" width="14.11" height="14.04" fill="#0b3779"/>
<rect x="994.28" y="212.19" width="14.11" height="14.04" fill="#e5f5dd"/>
<rect x="740.30" y="226.22" width="14.11" height="14.04" fill="#def2d7"/>
<rect x="909.62" y="226.22" width="14.11" height="14.04" fill="#d7efd0"/>
<rect x="923.73" y="226.22" width="14.11" height="14.04" fill="#c6e9bf"/>
<rect x="937.84" y="226.22" width="14.11" height="14.04" fill="#d9f0d2"/>
<rect x="966.06" y="226.22" width="14.11" height="14.04" fill="#0b3779"/>
<rect x="980.17" y="226.22" width="14.11" height="14.04" fill="#98d6b6"/>
<rect x="740.30" y="240.25" width="14.11" height="14.04" fill="#bfe6bc"/>
<rect x="754.41" y="240.25" width="14.11" height="14.04" fill="#b6e2b8"/>
<rect x="768.52" y="240.25" width="14.11" height="14.04" fill="#bfe6bc"/>
<rect x="782.63" y="240.25" width="14.11" height="14.04" fill="#bfe6bc"/>
<rect x="796.74" y="240.25" width="14.11" height="14.04" fill="#9dd8b4"/>
<rect x="810.85" y="240.25" width="14.11" height="14.04" fill="#bfe6bc"/>
<rect x="994.28" y="240.25" width="14.11" height="14.04" fill="#0b3779"/>
<rect x="839.07" y="254.29" width="14.11" height="14.04" fill="#e7f6df"/>
<rect x="853.18" y="254.29" width="14.11" height="14.04" fill="#d2eecb"/>
<rect x="867.29" y="254.29" width="14.11" height="14.04" fill="#e3f4db"/>
<rect x="895.51" y="254.29" width="14.11" height="14.04" fill="#def2d7"/>
<rect x="909.62" y="254.29" width="14.11" height="14.04" fill="#def2d7"/>
<rect x="923.73" y="254.29" width="14.11" height="14.04" fill="#e3f4db"/>
<rect x="937.84" y="254.29" width="14.11" height="14.04" fill="#def2d7"/>
<rect x="951.95" y="254.29" width="14.11" height="14.04" fill="#dcf1d5"/>
<rect x="966.06" y="254.29" width="14.11" height="14.04" fill="#e3f4db"/>
<rect x="980.17" y="254.29" width="14.11" height="14.04" fill="#def2d7"/>
<rect x="994.28" y="254.29" width="14.11" height="14.04" fill="#0b3779"/>
<rect x="1008.39" y="254.29" width="14.11" height="14.04" fill="#eef9e4"/>
<rect x="1022.50" y="254.29" width="14.11" height="14.04" fill="#eef9e4"/>
<rect x="740.30" y="268.32" width="14.11" height="14.04" fill="#e3f4db"/>
<rect x="768.52" y="268.32" width="14.11" height="14.04" fill="#def2d7"/>
<rect x="782.63" y="268.32" width="14.11" height="14.04" fill="#83cfbd"/>
<rect x="796.74" y="268.32" width="14.11" height="14.04" fill="#c6e9bf"/>
<rect x="810.85" y="268.32" width="14.11" height="14.04" fill="#0b3779"/>
<rect x="740.30" y="282.36" width="14.11" height="14.04" fill="#e5f5dd"/>
<rect x="754.41" y="282.36" width="14.11" height="14.04" fill="#e5f5dd"/>
<rect x="768.52" y="282.36" width="14.11" height="14.04" fill="#e7f6df"/>
<rect x="782.63" y="282.36" width="14.11" height="14.04" fill="#0b3779"/>
<rect x="796.74" y="282.36" width="14.11" height="14.04" fill="#e7f6df"/>
<rect x="810.85" y="282.36" width="14.11" height="14.04" fill="#eaf7e0"/>
<rect x="824.96" y="282.36" width="14.11" height="14.04" fill="#eaf7e0"/>
<rect x="853.18" y="282.36" width="14.11" height="14.04" fill="#e0f3d9"/>
<rect x="881.40" y="282.36" width="14.11" height="14.04" fill="#eaf7e0"/>
<rect x="895.51" y="282.36" width="14.11" height="14.04" fill="#eaf7e0"/>
<rect x="909.62" y="282.36" width="14.11" height="14.04" fill="#eaf7e0"/>
<rect x="923.73" y="282.36" width="14.11" height="14.04" fill="#e5f5dd"/>
<rect x="937.84" y="282.36" width="14.11" height="14.04" fill="#e5f5dd"/>
<rect x="951.95" y="282.36" width="14.11" height="14.04" fill="#e5f5dd"/>
<rect x="966.06" y="282.36" width="14.11" height="14.04" fill="#eaf7e0"/>
<rect x="980.17" y="282.36" width="14.11" height="14.04" fill="#eaf7e0"/>
<rect x="994.28" y="282.36" width="14.11" height="14.04" fill="#e5f5dd"/>
<rect x="1008.39" y="282.36" width="14.11" height="14.04" fill="#e5f5dd"/>
</g>
<g font-family="Liberation Sans, Arial, sans-serif" font-size="14.7" fill="#000" stroke="#000" stroke-width="0.25" text-anchor="end">
<text transform="translate(750.60,482.85) rotate(-90)">Alv-Proliferating</text>
<text transform="translate(764.84,482.85) rotate(-90)">Alv-Basal</text>
<text transform="translate(779.07,482.85) rotate(-90)">Basal</text>
<text transform="translate(793.31,482.85) rotate(-90)">Alv 1</text>
<text transform="translate(807.54,482.85) rotate(-90)">Alv 2</text>
<text transform="translate(821.77,482.85) rotate(-90)">Alv 3</text>
<text transform="translate(836.01,482.85) rotate(-90)">Hormone Sensing</text>
<text transform="translate(850.25,482.85) rotate(-90)">CD4+ Naïve</text>
<text transform="translate(864.48,482.85) rotate(-90)">CD4+ Treg</text>
<text transform="translate(878.72,482.85) rotate(-90)">CD8+ Naïve</text>
<text transform="translate(892.95,482.85) rotate(-90)">CD8+ CM</text>
<text transform="translate(907.18,482.85) rotate(-90)">CD8+ ISG</text>
<text transform="translate(921.42,482.85) rotate(-90)">CD8+ Effector</text>
<text transform="translate(935.65,482.85) rotate(-90)">CD8+ TRM</text>
<text transform="translate(949.89,482.85) rotate(-90)">CD8+ Progenitor Ex</text>
<text transform="translate(964.12,482.85) rotate(-90)">CD8+ Ex</text>
<text transform="translate(978.36,482.85) rotate(-90)">CD8+ Proliferating</text>
<text transform="translate(992.60,482.85) rotate(-90)">NK</text>
<text transform="translate(1006.83,482.85) rotate(-90)">Macrophage</text>
<text transform="translate(1021.07,482.85) rotate(-90)">Neutrophil</text>
<text transform="translate(1035.30,482.85) rotate(-90)">B cell</text>
</g>
<g font-family="Liberation Sans, Arial, sans-serif" font-size="14.6" fill="#000" stroke="#000" stroke-width="0.25" text-anchor="end">
<text x="419.8" y="70.02">MHC-I</text>
<text x="419.8" y="84.05">LCK</text>
<text x="419.8" y="98.09">SEMA6</text>
<text x="419.8" y="112.12">ANGPTL</text>
<text x="419.8" y="126.16">PERIOSTIN</text>
<text x="419.8" y="140.19">KIT</text>
<text x="419.8" y="154.23">NT</text>
<text x="419.8" y="168.26">L1CAM</text>
<text x="419.8" y="182.30">NCAM</text>
<text x="419.8" y="196.33">PDL2</text>
<text x="419.8" y="210.37">BMP</text>
<text x="419.8" y="224.40">RANKL</text>
<text x="419.8" y="238.44">NKG2D</text>
<text x="419.8" y="252.47">GAS</text>
<text x="419.8" y="266.51">VCAM</text>
<text x="419.8" y="280.54">ANGPT</text>
<text x="419.8" y="294.58">TNF</text>
<text x="419.8" y="308.61">CD80</text>
<text x="419.8" y="322.65">CD39</text>
<text x="419.8" y="336.68">BST2</text>
<text x="419.8" y="350.72">IFN-II</text>
<text x="419.8" y="364.75">IL2</text>
<text x="419.8" y="378.79">CD137</text>
<text x="419.8" y="392.82">VWF</text>
<text x="419.8" y="406.86">CSF3</text>
<text x="419.8" y="420.89">VEGF</text>
<text x="419.8" y="434.93">NRXN</text>
<text x="419.8" y="448.96">LIGHT</text>
<text x="419.8" y="463.00">CALCR</text>
<text x="419.8" y="477.03">LAIR1</text>
</g>
<rect x="295" y="62" width="35" height="205" fill="#b00010"/>
<rect x="295" y="271.8" width="35" height="205.2" fill="#5c1a8e"/>
<text font-family="Liberation Sans, Arial, sans-serif" font-size="20.5" fill="#fff" text-anchor="middle" transform="translate(319.3,168.8) rotate(-90)">Increased</text>
<text font-family="Liberation Sans, Arial, sans-serif" font-size="20.5" fill="#fff" text-anchor="middle" transform="translate(319.7,374.7) rotate(-90)">Decreased</text>
<text font-family="Liberation Sans, Arial, sans-serif" font-size="35.6" fill="#1c1c1c" text-anchor="middle" x="539.3" y="41.1">Early</text>
<text font-family="Liberation Sans, Arial, sans-serif" font-size="35.8" fill="#1c1c1c" text-anchor="middle" x="879.1" y="41.1">Late</text>
<text font-family="Liberation Sans, Arial, sans-serif" font-size="39" font-weight="bold" fill="#1c1c1c" text-anchor="middle" x="212" y="103.7">A</text>
<text font-family="Liberation Sans, Arial, sans-serif" font-size="37.8" font-weight="bold" fill="#1c1c1c" x="89.3" y="728.4">B</text>
<text font-family="Liberation Sans, Arial, sans-serif" font-size="35.3" fill="#1c1c1c" x="422.4" y="671.8">Cell-cell communication in early tumors only</text>
<text font-family="Liberation Sans, Arial, sans-serif" font-size="34.9" fill="#1c1c1c" x="198.5" y="726.8">IFN-II</text>
<text font-family="Liberation Sans, Arial, sans-serif" font-size="35.8" fill="#1c1c1c" text-anchor="middle" x="718.2" y="726.8">LIGHT</text>
<text font-family="Liberation Sans, Arial, sans-serif" font-size="35.6" fill="#1c1c1c" text-anchor="middle" x="1151" y="726.8">CD80</text>
<defs><linearGradient id="cb" x1="0" y1="1" x2="0" y2="0">
<stop offset="0.0000" stop-color="#f5fcea"/>
<stop offset="0.0312" stop-color="#eef9e4"/>
<stop offset="0.0625" stop-color="#e7f6de"/>
<stop offset="0.0938" stop-color="#e0f3d9"/>
<stop offset="0.1250" stop-color="#d9f0d2"/>
<stop offset="0.1562" stop-color="#d2edcb"/>
<stop offset="0.1875" stop-color="#cbebc4"/>
<stop offset="0.2188" stop-color="#c3e8be"/>
<stop offset="0.2500" stop-color="#bae4ba"/>
<stop offset="0.2812" stop-color="#b1e0b6"/>
<stop offset="0.3125" stop-color="#a8dcb2"/>
<stop offset="0.3438" stop-color="#9dd8b4"/>
<stop offset="0.3750" stop-color="#92d4b8"/>
<stop offset="0.4062" stop-color="#87d0bc"/>
<stop offset="0.4375" stop-color="#7cccc0"/>
<stop offset="0.4688" stop-color="#70c6c4"/>
<stop offset="0.5000" stop-color="#64bfc8"/>
<stop offset="0.5312" stop-color="#59b8cc"/>
<stop offset="0.5625" stop-color="#4db2d0"/>
<stop offset="0.5938" stop-color="#45a8cc"/>
<stop offset="0.6250" stop-color="#3d9fc7"/>
<stop offset="0.6562" stop-color="#3595c3"/>
<stop offset="0.6875" stop-color="#2d8cbf"/>
<stop offset="0.7188" stop-color="#2682ba"/>
<stop offset="0.7500" stop-color="#2079b5"/>
<stop offset="0.7812" stop-color="#1970b0"/>
<stop offset="0.8125" stop-color="#1368ab"/>
<stop offset="0.8438" stop-color="#0d5fa6"/>
<stop offset="0.8750" stop-color="#0d579d"/>
<stop offset="0.9062" stop-color="#0c4e93"/>
<stop offset="0.9375" stop-color="#0c468a"/>
<stop offset="0.9688" stop-color="#0b3f82"/>
<stop offset="1.0000" stop-color="#0b3779"/>
</linearGradient></defs>
<rect x="1054.1" y="178" width="24.6" height="217.7" fill="url(#cb)"/>
<text font-family="Liberation Sans, Arial, sans-serif" font-size="19.7" fill="#000" text-anchor="middle" transform="translate(1050.6,271.3) rotate(-90)">Communication strength</text>
<text font-family="Liberation Sans, Arial, sans-serif" font-size="20.5" fill="#000" x="1087.5" y="196.8">1</text>
<text font-family="Liberation Sans, Arial, sans-serif" font-size="20.5" fill="#000" x="1087.5" y="396.3">0</text>
<g fill="none" stroke="#566f8b" stroke-linecap="round">
<path d="M299.6,1075.5 L244.4,995.6 Q218.4,958.0 205.2,914.2 L181.3,835.6" stroke-width="0.9" stroke-opacity="0.95"/>
<path d="M181.3,835.6 L178.9,827.6" stroke-width="0.9" stroke-opacity="1"/>
<path d="M299.6,1075.5 L256.9,988.2 Q236.9,947.2 230.3,902.0 L218.4,820.7" stroke-width="0.9" stroke-opacity="0.95"/>
<path d="M218.4,820.7 L217.2,812.4" stroke-width="0.9" stroke-opacity="1"/>
<path d="M299.6,1075.5 L271.1,984.9 Q257.7,942.3 257.9,897.6 L258.3,817.7" stroke-width="0.5" stroke-opacity="0.1"/>
<path d="M258.3,817.7 L258.4,809.3" stroke-width="0.5" stroke-opacity="0.85"/>
<path d="M299.6,1075.5 L285.6,985.9 Q279.0,943.8 285.6,901.7 L297.3,826.9" stroke-width="1.0" stroke-opacity="0.95"/>
<path d="M297.3,826.9 L298.6,818.6" stroke-width="0.9" stroke-opacity="1"/>
<path d="M299.6,1075.5 L299.2,991.2 Q299.0,951.5 310.9,913.6 L331.7,847.5" stroke-width="0.9" stroke-opacity="0.9"/>
<path d="M331.7,847.5 L334.2,839.5" stroke-width="0.9" stroke-opacity="1"/>
<path d="M299.6,1075.5 L310.6,1000.2 Q315.7,964.7 331.5,932.5 L358.3,877.6" stroke-width="1.0" stroke-opacity="0.95"/>
<path d="M358.3,877.6 L362.0,870.0" stroke-width="0.9" stroke-opacity="1"/>
<path d="M299.6,1075.5 L318.8,1012.1 Q327.9,982.3 345.6,956.6 L374.7,914.4" stroke-width="1.9" stroke-opacity="1" stroke="#6080a0"/>
<path d="M374.7,914.4 L379.5,907.5" stroke-width="0.9" stroke-opacity="1"/>
<path d="M299.6,1075.5 L323.2,1026.0 Q334.3,1002.6 351.9,983.8 L379.2,954.7" stroke-width="0.9" stroke-opacity="0.95"/>
<path d="M379.2,954.7 L385.0,948.6" stroke-width="0.9" stroke-opacity="1"/>
<path d="M299.6,1075.5 L323.2,1040.5 Q334.4,1024.0 350.0,1011.7 L371.4,994.8" stroke-width="0.9" stroke-opacity="0.95"/>
<path d="M371.4,994.8 L378.0,989.6" stroke-width="0.9" stroke-opacity="1"/>
<path d="M299.6,1075.5 L319.0,1054.4 Q328.2,1044.4 339.9,1037.7 L351.8,1030.9" stroke-width="2.0" stroke-opacity="1" stroke="#6080a0"/>
<path d="M351.8,1030.9 L359.1,1026.8" stroke-width="0.9" stroke-opacity="1"/>
<path d="M299.6,1075.5 Q316.2,1062.1 322.2,1059.8" stroke-width="3.2" stroke-opacity="1" stroke="#6080a0"/>
<path d="M322.2,1059.8 L330.0,1056.8" stroke-width="0.9" stroke-opacity="1"/>
</g>
<polygon points="180.3,832.4 183.7,834.9 178.9,836.3" fill="#566f8b" fill-opacity="1"/>
<polygon points="217.9,817.3 220.9,820.3 216.0,821.1" fill="#566f8b" fill-opacity="1"/>
<polygon points="258.3,814.3 260.8,817.7 255.8,817.7" fill="#566f8b" fill-opacity="0.85"/>
<polygon points="297.8,823.5 299.7,827.3 294.8,826.5" fill="#566f8b" fill-opacity="1"/>
<polygon points="332.7,844.2 334.0,848.2 329.3,846.7" fill="#566f8b" fill-opacity="1"/>
<polygon points="359.8,874.5 360.5,878.7 356.0,876.5" fill="#566f8b" fill-opacity="1"/>
<polygon points="376.6,911.6 376.7,915.9 372.6,913.0" fill="#566f8b" fill-opacity="1"/>
<polygon points="381.6,952.3 381.1,956.4 377.4,953.0" fill="#566f8b" fill-opacity="1"/>
<polygon points="374.1,992.7 373.0,996.8 369.9,992.8" fill="#566f8b" fill-opacity="1"/>
<polygon points="354.8,1029.3 353.1,1033.1 350.6,1028.8" fill="#566f8b" fill-opacity="1"/>
<polygon points="325.3,1058.6 323.1,1062.2 321.3,1057.5" fill="#566f8b" fill-opacity="1"/>
<circle cx="389.5" cy="943.8" r="7.1" fill="#de8bb0"/>
<circle cx="383.2" cy="902.1" r="7.1" fill="#c0508f"/>
<circle cx="364.9" cy="864.1" r="7.1" fill="#8e1f6e"/>
<circle cx="336.1" cy="833.2" r="7.1" fill="#d9efd6"/>
<circle cx="299.6" cy="812.1" r="7.1" fill="#76bfae"/>
<circle cx="258.4" cy="802.7" r="7.1" fill="#2f7f7b"/>
<circle cx="216.3" cy="805.8" r="7.1" fill="#c8ad7f"/>
<circle cx="177.0" cy="821.3" r="7.1" fill="#b2e2a8"/>
<circle cx="143.9" cy="847.6" r="7.1" fill="#3a7d3c"/>
<circle cx="120.1" cy="882.4" r="7.1" fill="#fde0dd"/>
<circle cx="107.7" cy="922.7" r="7.1" fill="#f9b4b4"/>
<circle cx="107.7" cy="964.9" r="7.1" fill="#f16a5c"/>
<circle cx="120.1" cy="1005.2" r="7.1" fill="#fb1a28"/>
<circle cx="143.9" cy="1040.0" r="7.1" fill="#c4161c"/>
<circle cx="176.9" cy="1066.3" r="7.1" fill="#800040"/>
<circle cx="216.3" cy="1081.8" r="7.1" fill="#5a0620"/>
<circle cx="258.4" cy="1084.9" r="7.1" fill="#000000"/>
<circle cx="299.6" cy="1075.5" r="7.1" fill="#115089"/>
<circle cx="336.1" cy="1054.4" r="7.1" fill="#7cc4ec"/>
<circle cx="364.9" cy="1023.5" r="7.1" fill="#c8911a"/>
<circle cx="383.2" cy="985.5" r="7.1" fill="#c5562c"/>
<g font-family="Liberation Sans, Arial, sans-serif" font-size="13" fill="#000" stroke="#000" stroke-width="0.2" text-anchor="middle">
<text x="260.7" y="772.7">Alv 3</text>
<text x="216.8" y="784.2">Hormone Sensing</text>
<text x="312.6" y="784.9">Alv 2</text>
<text x="168.4" y="806.1">CD4+ Naïve</text>
<text x="351.3" y="819.0">Alv 1</text>
<text x="139.5" y="844.1">CD4+ Treg</text>
<text x="379.7" y="859.1">Basal</text>
<text x="90.7" y="874.8">CD8+ Naïve</text>
<text x="398.4" y="902.6">Alv-Basal</text>
<text x="100.1" y="926.3">CD8+ CM</text>
<text x="419.8" y="946.2">Alv-Proliferating</text>
<text x="87.7" y="976.5">CD8+ ISG</text>
<text x="412.8" y="989.4">B cell</text>
<text x="102.2" y="1027.1">CD8+ Effector</text>
<text x="403.1" y="1036.8">Neutrophil</text>
<text x="136.2" y="1061.5">CD8+ TRM</text>
<text x="359.2" y="1069.9">Macrophage</text>
<text x="178.9" y="1077.9">CD8+ Progenitor Ex</text>
<text x="309.2" y="1089.7">NK</text>
<text x="220.5" y="1099.5">CD8+ Ex</text>
<text x="278.2" y="1115.9">CD8+ Proliferating</text>
</g>
<g fill="none" stroke="#c4686a" stroke-linecap="round">
<path d="M605.8,1036.2 Q589.7,1021.1 584.1,1007.2" stroke-width="1.1" stroke-opacity="0.9"/>
<path d="M605.8,1036.2 Q578.7,1001.8 572.1,974.0" stroke-width="1.1" stroke-opacity="0.9"/>
<path d="M572.1,974.0 L570.2,965.8" stroke-width="0.9" stroke-opacity="1"/>
<path d="M605.8,1036.2 Q574.0,980.2 569.2,923.2" stroke-width="0.6" stroke-opacity="0.12"/>
<path d="M605.8,1036.2 Q575.8,958.1 580.4,889.8" stroke-width="1.1" stroke-opacity="0.9"/>
<path d="M580.4,889.8 L581.0,881.4" stroke-width="0.9" stroke-opacity="1"/>
<path d="M605.8,1036.2 Q584.1,937.6 602.6,853.8" stroke-width="1.1" stroke-opacity="0.9"/>
<path d="M602.6,853.8 L604.4,845.6" stroke-width="0.9" stroke-opacity="1"/>
<path d="M605.8,1036.2 Q598.1,920.4 634.3,826.2" stroke-width="1.1" stroke-opacity="0.9"/>
<path d="M634.3,826.2 L637.3,818.3" stroke-width="0.9" stroke-opacity="1"/>
<path d="M605.8,1036.2 Q616.5,908.1 672.6,809.4" stroke-width="3.0" stroke-opacity="1"/>
<path d="M672.6,809.4 L676.7,802.1" stroke-width="0.9" stroke-opacity="1"/>
<path d="M605.8,1036.2 Q637.8,901.7 713.9,804.9" stroke-width="0.6" stroke-opacity="0.9"/>
<path d="M713.9,804.9 L719.1,798.3" stroke-width="0.6" stroke-opacity="1"/>
<path d="M605.8,1036.2 Q660.0,901.9 754.5,813.0" stroke-width="2.2" stroke-opacity="1"/>
<path d="M754.5,813.0 L760.6,807.2" stroke-width="0.9" stroke-opacity="1"/>
<path d="M605.8,1036.2 Q681.1,908.5 790.6,832.8" stroke-width="1.2" stroke-opacity="0.95"/>
<path d="M790.6,832.8 L797.5,828.1" stroke-width="0.9" stroke-opacity="1"/>
<path d="M605.8,1036.2 Q699.3,921.1 818.9,862.6" stroke-width="2.3" stroke-opacity="1"/>
<path d="M818.9,862.6 L826.5,858.9" stroke-width="0.9" stroke-opacity="1"/>
<path d="M605.8,1036.2 Q713.0,938.5 836.9,899.4" stroke-width="2.4" stroke-opacity="1"/>
<path d="M836.9,899.4 L844.9,896.9" stroke-width="0.9" stroke-opacity="1"/>
<path d="M605.8,1036.2 Q721.0,959.2 842.8,940.0" stroke-width="2.0" stroke-opacity="1"/>
<path d="M842.8,940.0 L851.1,938.7" stroke-width="0.9" stroke-opacity="1"/>
<path d="M605.8,1036.2 Q717.3,1002.8 817.5,1017.1" stroke-width="1.3" stroke-opacity="0.95"/>
<path d="M817.5,1017.1 L825.9,1018.3" stroke-width="0.9" stroke-opacity="1"/>
<path d="M605.8,1036.2 Q706.1,1021.9 788.5,1046.6" stroke-width="1.0" stroke-opacity="0.9"/>
<path d="M788.5,1046.6 L796.6,1049.0" stroke-width="0.9" stroke-opacity="1"/>
<path d="M605.8,1036.2 Q669.6,1046.3 710.7,1073.8" stroke-width="0.7" stroke-opacity="0.7" stroke-dasharray="3 4"/>
<path d="M710.7,1073.8 L717.7,1078.4" stroke-width="0.7" stroke-opacity="0.7999999999999999"/>
<path d="M600.8,1041.2 C583.8,1044.2 567.8,1056.2 566.3,1066.2 C565.3,1074.2 574.8,1075.7 586.8,1064.2 Q593.8,1056.2 601.3,1042.2" stroke-width="0.9" stroke-opacity="0.9"/><polygon points="598.2,1045.3 598.7,1049.5 594.3,1047.0" fill="#c4686a" fill-opacity="0.95" stroke="none"/>
</g>
<polygon points="571.3,970.6 574.6,973.4 569.7,974.5" fill="#c4686a" fill-opacity="1"/>
<polygon points="580.6,886.4 582.9,890.0 577.9,889.6" fill="#c4686a" fill-opacity="1"/>
<polygon points="603.3,850.5 605.0,854.3 600.1,853.2" fill="#c4686a" fill-opacity="1"/>
<polygon points="635.5,823.0 636.6,827.1 631.9,825.3" fill="#c4686a" fill-opacity="1"/>
<polygon points="674.2,806.5 674.7,810.6 670.4,808.2" fill="#c4686a" fill-opacity="1"/>
<polygon points="716.0,802.2 715.9,806.5 711.9,803.4" fill="#c4686a" fill-opacity="1"/>
<polygon points="757.0,810.7 756.2,814.8 752.8,811.2" fill="#c4686a" fill-opacity="1"/>
<polygon points="793.4,830.9 792.0,834.9 789.2,830.8" fill="#c4686a" fill-opacity="1"/>
<polygon points="822.0,861.1 820.0,864.8 817.8,860.3" fill="#c4686a" fill-opacity="1"/>
<polygon points="840.1,898.4 837.6,901.8 836.1,897.0" fill="#c4686a" fill-opacity="1"/>
<polygon points="846.2,939.4 843.2,942.4 842.4,937.5" fill="#c4686a" fill-opacity="1"/>
<polygon points="820.9,1017.6 817.2,1019.6 817.9,1014.7" fill="#c4686a" fill-opacity="1"/>
<polygon points="791.8,1047.6 787.8,1049.0 789.3,1044.2" fill="#c4686a" fill-opacity="1"/>
<polygon points="713.5,1075.7 709.3,1075.8 712.1,1071.7" fill="#c4686a" fill-opacity="0.7999999999999999"/>
<circle cx="857.8" cy="937.6" r="7.25" fill="#de8bb0"/>
<circle cx="851.3" cy="894.9" r="7.25" fill="#c0508f"/>
<circle cx="832.5" cy="855.9" r="7.25" fill="#8e1f6e"/>
<circle cx="803.1" cy="824.2" r="7.25" fill="#d9efd6"/>
<circle cx="765.5" cy="802.6" r="7.25" fill="#76bfae"/>
<circle cx="723.3" cy="793.0" r="7.25" fill="#2f7f7b"/>
<circle cx="680.0" cy="796.2" r="7.25" fill="#c8ad7f"/>
<circle cx="639.7" cy="812.0" r="7.25" fill="#b2e2a8"/>
<circle cx="605.8" cy="839.0" r="7.25" fill="#3a7d3c"/>
<circle cx="581.4" cy="874.7" r="7.25" fill="#fde0dd"/>
<circle cx="568.6" cy="916.0" r="7.25" fill="#f9b4b4"/>
<circle cx="568.6" cy="959.2" r="7.25" fill="#f16a5c"/>
<circle cx="581.4" cy="1000.5" r="7.25" fill="#fb1a28"/>
<circle cx="605.8" cy="1036.2" r="7.25" fill="#c4161c"/>
<circle cx="639.7" cy="1063.2" r="7.25" fill="#800040"/>
<circle cx="680.0" cy="1079.0" r="7.25" fill="#5a0620"/>
<circle cx="723.3" cy="1082.2" r="7.25" fill="#000000"/>
<circle cx="765.5" cy="1072.6" r="7.25" fill="#115089"/>
<circle cx="803.1" cy="1051.0" r="7.25" fill="#7cc4ec"/>
<circle cx="832.5" cy="1019.3" r="7.25" fill="#c8911a"/>
<circle cx="851.3" cy="980.3" r="7.25" fill="#c5562c"/>
<g font-family="Liberation Sans, Arial, sans-serif" font-size="11.2" fill="#000" stroke="#000" stroke-width="0.2" text-anchor="middle">
<text x="723.9" y="761.5">Alv 3</text>
<text x="672.1" y="773.7">Hormone Sensing</text>
<text x="776.7" y="773.7">Alv 2</text>
<text x="625.4" y="795.7">CD4+ Naïve</text>
<text x="816.2" y="809.6">Alv 1</text>
<text x="596.0" y="834.7">CD4+ Treg</text>
<text x="845.0" y="850.4">Basal</text>
<text x="545.5" y="866.7">CD8+ Naïve</text>
<text x="862.5" y="895.0">Alv-Basal</text>
<text x="556.1" y="919.4">CD8+ CM</text>
<text x="881.5" y="940.3">Alv-Proliferating</text>
<text x="543.0" y="970.9">CD8+ ISG</text>
<text x="878.7" y="983.8">B cell</text>
<text x="556.1" y="1022.8">CD8+ Effector</text>
<text x="866.7" y="1032.6">Neutrophil</text>
<text x="592.5" y="1058.7">CD8+ TRM</text>
<text x="820.6" y="1065.7">Macrophage</text>
<text x="631.9" y="1090.8">CD8+ Progenitor Ex</text>
<text x="773.7" y="1086.6">NK</text>
<text x="680.3" y="1102.3">CD8+ Ex</text>
<text x="734.7" y="1119.0">CD8+ Proliferating</text>
</g>
<g fill="none" stroke="#c9a85e" stroke-linecap="round">
<path d="M1285.0,1026.0 Q1162.0,941.3 1094.3,826.9" stroke-width="0.95" stroke-opacity="1"/>
<path d="M1094.3,826.9 L1089.4,818.6" stroke-width="0.9" stroke-opacity="1"/>
<path d="M1285.0,1026.0 Q1147.6,959.0 1061.3,853.2" stroke-width="3.0" stroke-opacity="1"/>
<path d="M1061.3,853.2 L1055.3,845.8" stroke-width="0.9" stroke-opacity="1"/>
<path d="M1285.0,1026.0 Q1139.0,980.2 1037.9,888.3" stroke-width="0.75" stroke-opacity="0.95"/>
<path d="M1037.9,888.3 L1030.8,881.8" stroke-width="0.75" stroke-opacity="1"/>
<path d="M1285.0,1026.0 Q1137.1,1002.9 1026.2,928.9" stroke-width="0.75" stroke-opacity="0.95"/>
<path d="M1026.2,928.9 L1018.2,923.5" stroke-width="0.75" stroke-opacity="1"/>
<path d="M1285.0,1026.0 Q1142.0,1025.1 1027.4,971.2" stroke-width="0.9" stroke-opacity="0.95"/>
<path d="M1027.4,971.2 L1018.7,967.1" stroke-width="0.9" stroke-opacity="1"/>
<path d="M1285.0,1026.0 Q1153.3,1044.9 1041.5,1011.4" stroke-width="1.1" stroke-opacity="1"/>
<path d="M1041.5,1011.4 L1032.3,1008.7" stroke-width="0.9" stroke-opacity="1"/>
<path d="M1285.0,1026.0 Q1169.9,1060.5 1067.2,1045.8" stroke-width="0.7" stroke-opacity="0.5" stroke-dasharray="4 5"/>
<path d="M1067.2,1045.8 L1057.7,1044.4" stroke-width="0.7" stroke-opacity="0.85"/>
<path d="M1285.0,1026.0 Q1190.5,1070.5 1102.3,1071.1" stroke-width="0.7" stroke-opacity="0.65" stroke-dasharray="5 3"/>
<path d="M1102.3,1071.1 L1092.7,1071.2" stroke-width="0.7" stroke-opacity="0.85"/>
<path d="M1285.0,1026.0 Q1213.1,1074.1 1143.8,1084.9" stroke-width="0.6" stroke-opacity="0.4" stroke-dasharray="2 3"/>
<path d="M1143.8,1084.9 L1134.3,1086.4" stroke-width="0.6" stroke-opacity="0.85"/>
<path d="M1285.0,1026.0 Q1235.7,1070.8 1187.8,1085.9" stroke-width="0.9" stroke-opacity="0.95"/>
<path d="M1187.8,1085.9 L1178.7,1088.7" stroke-width="0.9" stroke-opacity="1"/>
<path d="M1285.0,1026.0 Q1256.5,1061.1 1230.6,1073.7" stroke-width="0.6" stroke-opacity="0.5"/>
<path d="M1230.6,1073.7 L1221.9,1077.9" stroke-width="0.6" stroke-opacity="0.85"/>
<path d="M1285.0,1026.0 Q1225.9,922.2 1217.2,819.4" stroke-width="0.6" stroke-opacity="0.28" stroke-dasharray="1.5 3"/>
<path d="M1217.2,819.4 L1216.4,809.9" stroke-width="0.6" stroke-opacity="0.6"/>
<path d="M1285.0,1026.0 Q1247.7,929.0 1253.5,841.7" stroke-width="0.6" stroke-opacity="0.28" stroke-dasharray="1.5 3"/>
<path d="M1253.5,841.7 L1254.1,832.1" stroke-width="0.6" stroke-opacity="0.6"/>
<path d="M1285.0,1026.0 Q1280.6,959.9 1298.6,913.3" stroke-width="0.6" stroke-opacity="0.3" stroke-dasharray="1.5 3"/>
<path d="M1298.6,913.3 L1302.0,904.4" stroke-width="0.6" stroke-opacity="0.6"/>
<path d="M1285.0,1026.0 Q1290.3,1003.9 1294.3,998.8" stroke-width="0.6" stroke-opacity="0.45" stroke-dasharray="1.5 3"/>
<path d="M1294.3,998.8 L1300.2,991.3" stroke-width="0.6" stroke-opacity="0.85"/>
<path d="M1290.0,1031.0 C1299.0,1044.0 1313.0,1058.0 1323.0,1057.0 C1333.0,1055.0 1329.0,1042.0 1300.0,1030.6" stroke-width="0.6" stroke-opacity="0.3" stroke-dasharray="1.5 3"/><path d="M1300.0,1030.6 L1291.5,1028.0" stroke-width="0.8" stroke-opacity="0.9"/><polygon points="1296.4,1029.6 1300.3,1028.2 1298.9,1032.9" fill="#c9a85e" fill-opacity="0.9" stroke="none"/>
</g>
<polygon points="1092.3,823.5 1096.8,825.4 1091.8,828.4" fill="#c9a85e" fill-opacity="1"/>
<polygon points="1058.9,850.2 1063.6,851.4 1059.1,855.0" fill="#c9a85e" fill-opacity="1"/>
<polygon points="1035.0,885.7 1039.8,886.2 1036.0,890.4" fill="#c9a85e" fill-opacity="1"/>
<polygon points="1023.0,926.7 1027.8,926.5 1024.6,931.2" fill="#c9a85e" fill-opacity="1"/>
<polygon points="1023.9,969.5 1028.6,968.6 1026.2,973.8" fill="#c9a85e" fill-opacity="1"/>
<polygon points="1037.7,1010.3 1042.3,1008.7 1040.6,1014.2" fill="#c9a85e" fill-opacity="1"/>
<polygon points="1063.3,1045.2 1067.6,1043.0 1066.8,1048.6" fill="#c9a85e" fill-opacity="0.85"/>
<polygon points="1098.4,1071.1 1102.3,1068.2 1102.4,1074.0" fill="#c9a85e" fill-opacity="0.85"/>
<polygon points="1139.9,1085.5 1143.3,1082.1 1144.2,1087.8" fill="#c9a85e" fill-opacity="0.85"/>
<polygon points="1184.1,1087.0 1187.0,1083.1 1188.7,1088.6" fill="#c9a85e" fill-opacity="1"/>
<polygon points="1227.1,1075.4 1229.3,1071.1 1231.8,1076.3" fill="#c9a85e" fill-opacity="0.85"/>
<polygon points="1216.9,815.5 1220.1,819.2 1214.4,819.7" fill="#c9a85e" fill-opacity="0.6"/>
<polygon points="1253.8,837.8 1256.4,841.9 1250.6,841.5" fill="#c9a85e" fill-opacity="0.6"/>
<polygon points="1300.0,909.7 1301.2,914.3 1295.9,912.3" fill="#c9a85e" fill-opacity="0.6"/>
<polygon points="1296.7,995.8 1296.5,1000.6 1292.0,997.1" fill="#c9a85e" fill-opacity="0.85"/>
<circle cx="1311.1" cy="942.0" r="7.3" fill="#de8bb0"/>
<circle cx="1304.4" cy="898.0" r="7.3" fill="#c0508f"/>
<circle cx="1285.0" cy="858.0" r="7.3" fill="#8e1f6e"/>
<circle cx="1254.6" cy="825.4" r="7.3" fill="#d9efd6"/>
<circle cx="1215.8" cy="803.1" r="7.3" fill="#76bfae"/>
<circle cx="1172.2" cy="793.2" r="7.3" fill="#2f7f7b"/>
<circle cx="1127.6" cy="796.5" r="7.3" fill="#c8ad7f"/>
<circle cx="1086.0" cy="812.8" r="7.3" fill="#b2e2a8"/>
<circle cx="1051.0" cy="840.5" r="7.3" fill="#3a7d3c"/>
<circle cx="1025.8" cy="877.3" r="7.3" fill="#fde0dd"/>
<circle cx="1012.6" cy="919.8" r="7.3" fill="#f9b4b4"/>
<circle cx="1012.6" cy="964.2" r="7.3" fill="#f16a5c"/>
<circle cx="1025.8" cy="1006.7" r="7.3" fill="#fb1a28"/>
<circle cx="1051.0" cy="1043.5" r="7.3" fill="#c4161c"/>
<circle cx="1085.9" cy="1071.2" r="7.3" fill="#800040"/>
<circle cx="1127.6" cy="1087.5" r="7.3" fill="#5a0620"/>
<circle cx="1172.2" cy="1090.8" r="7.3" fill="#000000"/>
<circle cx="1215.8" cy="1080.9" r="7.3" fill="#115089"/>
<circle cx="1254.6" cy="1058.6" r="7.3" fill="#7cc4ec"/>
<circle cx="1285.0" cy="1026.0" r="7.3" fill="#c8911a"/>
<circle cx="1304.4" cy="986.0" r="7.3" fill="#c5562c"/>
<g font-family="Liberation Sans, Arial, sans-serif" font-size="11.5" fill="#000" stroke="#000" stroke-width="0.2" text-anchor="middle">
<text x="1172.8" y="760.9">Alv 3</text>
<text x="1119.6" y="773.1">Hormone Sensing</text>
<text x="1227.1" y="773.1">Alv 2</text>
<text x="1071.4" y="796.5">CD4+ Naïve</text>
<text x="1267.5" y="810.4">Alv 1</text>
<text x="1041.4" y="836.2">CD4+ Treg</text>
<text x="1297.5" y="852.6">Basal</text>
<text x="989.3" y="868.9">CD8+ Naïve</text>
<text x="1315.4" y="898.2">Alv-Basal</text>
<text x="999.9" y="923.6">CD8+ CM</text>
<text x="1334.9" y="944.9">Alv-Proliferating</text>
<text x="987.0" y="976.3">CD8+ ISG</text>
<text x="1332.2" y="989.8">B cell</text>
<text x="999.9" y="1029.9">CD8+ Effector</text>
<text x="1319.4" y="1040.0">Neutrophil</text>
<text x="1037.4" y="1066.8">CD8+ TRM</text>
<text x="1272.2" y="1073.8">Macrophage</text>
<text x="1078.2" y="1099.6">CD8+ Progenitor Ex</text>
<text x="1224.1" y="1095.4">NK</text>
<text x="1128.0" y="1111.8">CD8+ Ex</text>
<text x="1184.1" y="1128.5">CD8+ Proliferating</text>
</g>
</svg></body></html>
